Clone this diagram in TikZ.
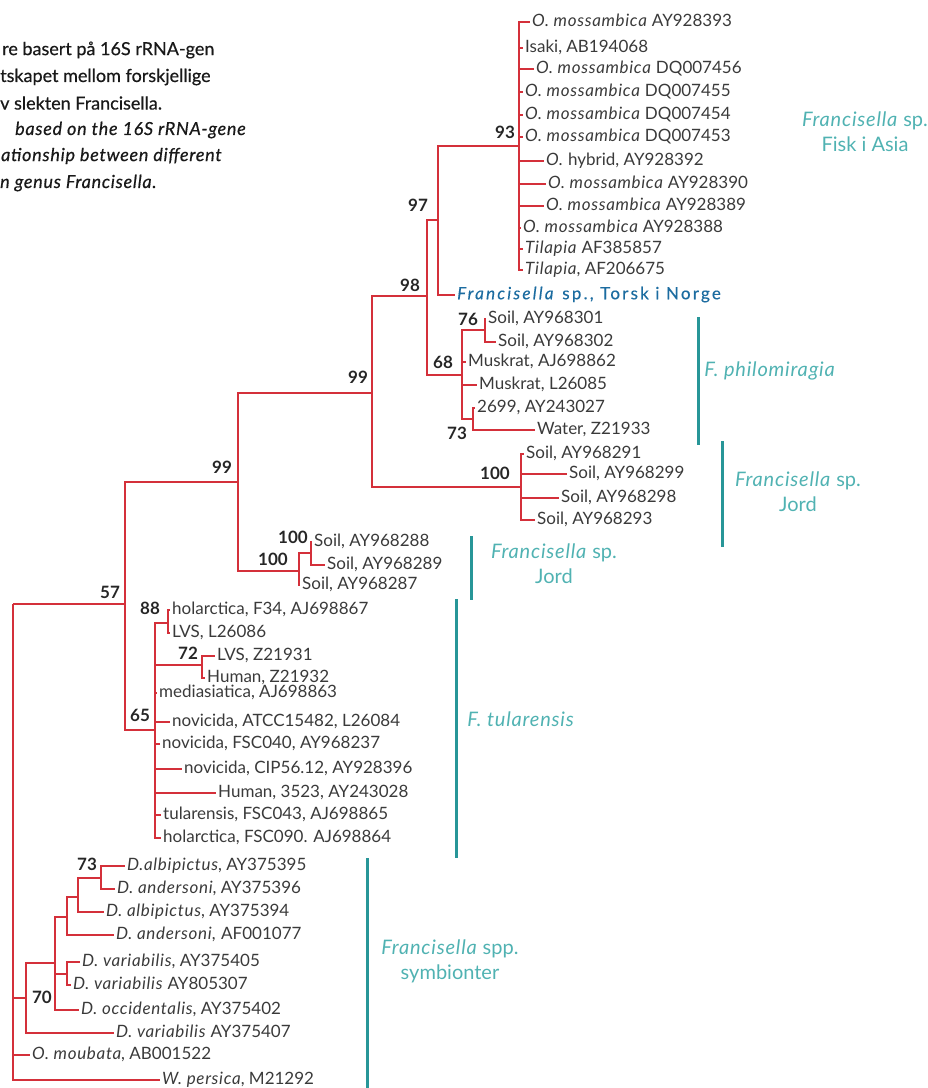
\documentclass[tikz,border=0pt]{standalone}
\usepackage{fontspec}
\setmainfont{Lato}[ItalicFeatures={LetterSpace=4}]
\newfontfamily\capfont{Lato}[FakeBold=0.5, ItalicFeatures={LetterSpace=4}]
\newfontfamily\torskfont{Lato}[LetterSpace=13, FakeBold=0.3, ItalicFeatures={LetterSpace=13}]
\usetikzlibrary{positioning}
\definecolor{treeRed}{RGB}{212,48,58}
\definecolor{cladeTeal}{RGB}{40,150,152}
\definecolor{cladeText}{RGB}{80,178,178}
\definecolor{leafGray}{RGB}{58,58,58}
\definecolor{torskBlue}{RGB}{28,108,160}
\tikzset{
	branch/.style={draw=treeRed, line width=1.6pt},
	leaf/.style={anchor=west, inner xsep=2pt, inner ysep=0pt, text height=12pt, text depth=3.5pt, font=\fontsize{17}{20}\selectfont, text=leafGray},
	support/.style={inner sep=0pt, font=\fontsize{17}{20}\selectfont\bfseries, text=black!85},
	cladebar/.style={draw=cladeTeal, line width=3pt},
	cladelabel/.style={align=center, font=\fontsize{20}{25}\selectfont, text=cladeText},
	caption/.style={anchor=west, inner sep=0pt, font=\capfont\fontsize{18}{22}\selectfont, text=black!90},
}
\begin{document}
\begin{tikzpicture}[x=1pt,y=-1pt]
	\useasboundingbox (0,0) rectangle (928,1088);
	% caption (cut at the left edge)
	\node[caption] (cap1) at (2,50) {re basert på 16S rRNA-gen};
	\node[caption] (cap2) at (0,77) {tskapet mellom forskjellige};
	\node[caption] (cap3) at (0,103) {v slekten Francisella.};
	\node[caption] (cap4) at (15,130) {\itshape based on the 16S rRNA-gene};
	\node[caption] (cap5) at (1,156) {\itshape ationship between different};
	\node[caption] (cap6) at (0,183) {\itshape n genus Francisella.};
	% inner nodes
	\coordinate (root) at (13,604);
	\coordinate (nC) at (125,604);
	\coordinate (nB) at (238,482);
	\coordinate (nA) at (372,393);
	\coordinate (n98) at (427,296);
	\coordinate (n97) at (438,220);
	\coordinate (n93) at (519,146);
	\coordinate (n68) at (462,375);
	\coordinate (n76) at (485,330);
	\coordinate (n73a) at (473,419);
	\coordinate (n100a) at (521,487);
	\coordinate (n100b) at (299,571);
	\coordinate (n100c) at (311,553);
	\coordinate (n65) at (155,730);
	\coordinate (n88) at (168,623);
	\coordinate (n72) at (202,665);
	\coordinate (n70) at (26,998);
	\coordinate (nD) at (55,963);
	\coordinate (nE) at (67,917);
	\coordinate (nF) at (67,974);
	\coordinate (nG) at (78,897);
	\coordinate (n73b) at (101,878);
	% inner branches
	\foreach \p/\c in {root/nC, root/n70, nC/nB, nC/n65, nB/nA, nB/n100b, nA/n98, nA/n100a,
		n98/n97, n98/n68, n97/n93, n68/n76, n68/n73a, n100b/n100c, n65/n88, n65/n72,
		n70/nD, nD/nE, nD/nF, nE/nG, nG/n73b}
		\draw[branch] (\p) |- (\c);
	% Fisk i Asia
	\foreach \n/\x/\y/\t in {m1/530/22/{\textit{O. mossambica} AY928393}, m2/523/48/{Isaki, AB194068},
		m3/534/69/{\textit{O. mossambica} DQ007456}, m4/523/92/{\textit{O. mossambica} DQ007455},
		m5/523/115/{\textit{O. mossambica} DQ007454}, m6/523/137/{\textit{O. mossambica} DQ007453},
		m7/544/161/{\textit{O.} hybrid, AY928392}, m8/546/184/{\textit{O. mossambica} AY928390},
		m9/544/206/{\textit{O. mossambica} AY928389}, m10/521/228/{\textit{O. mossambica} AY928388},
		m11/523/249/{\textit{Tilapia} AF385857}, m12/523/270/{\textit{Tilapia}, AF206675}}{
		\node[leaf] (\n) at (\x,\y) {\t};
		\draw[branch] (n93) |- (\n.west);
	}
	\node[leaf, text=torskBlue, font=\torskfont\fontsize{17}{20}\selectfont] (torsk) at (455,295) {\textit{Francisella} sp., Torsk i Norge};
	\draw[branch] (n97) |- (torsk.west);
	% F. philomiragia
	\foreach \n/\x/\y/\t/\p in {p1/486/319/{Soil, AY968301}/n76, p2/496/342/{Soil, AY968302}/n76,
		p3/466/362/{Muskrat, AJ698862}/n68, p4/477/385/{Muskrat, L26085}/n68,
		p5/475/408/{2699, AY243027}/n73a, p6/535/430/{Water, Z21933}/n73a}{
		\node[leaf] (\n) at (\x,\y) {\t};
		\draw[branch] (\p) |- (\n.west);
	}
	% Jord
	\foreach \n/\x/\y/\t/\p in {j1/524/454/{Soil, AY968291}/n100a, j2/567/474/{Soil, AY968299}/n100a,
		j3/559/498/{Soil, AY968298}/n100a, j4/535/520/{Soil, AY968293}/n100a,
		k1/312/542/{Soil, AY968288}/n100c, k2/325/565/{Soil, AY968289}/n100c,
		k3/300/585/{Soil, AY968287}/n100b}{
		\node[leaf] (\n) at (\x,\y) {\t};
		\draw[branch] (\p) |- (\n.west);
	}
	% F. tularensis
	\foreach \n/\x/\y/\t/\p in {t1/170/610/{holarctica, F34, AJ698867}/n88, t2/170/633/{LVS, L26086}/n88,
		t3/215/656/{LVS, Z21931}/n72, t4/205/678/{Human, Z21932}/n72,
		t5/157/693/{mediasiatica, AJ698863}/n65, t6/170/722/{novicida, ATCC15482, L26084}/n65,
		t7/160/744/{novicida, FSC040, AY968237}/n65, t8/182/769/{novicida, CIP56.12, AY928396}/n65,
		t9/216/793/{Human, 3523, AY243028}/n65, t10/161/815/{tularensis, FSC043, AJ698865}/n65,
		t11/161/838/{holarctica, FSC090. AJ698864}/n65}{
		\node[leaf] (\n) at (\x,\y) {\t};
		\draw[branch] (\p) |- (\n.west);
	}
	% symbionts
	\foreach \n/\x/\y/\t/\p in {d1/125/866/{\textit{D.albipictus}, AY375395}/n73b,
		d2/115/889/{\textit{D. andersoni}, AY375396}/n73b, d3/104/912/{\textit{D. albipictus}, AY375394}/nG,
		d4/114/935/{\textit{D. andersoni,} AF001077}/nE, d5/80/962/{\textit{D. variabilis}, AY375405}/nF,
		d6/71/985/{\textit{D. variabilis} AY805307}/nF, d7/79/1010/{\textit{D. occidentalis}, AY375402}/nD,
		d8/114/1033/{\textit{D. variabilis} AY375407}/n70, d9/30/1055/{\textit{O. moubata}, AB001522}/root,
		d10/160/1080/{\textit{W. persica}, M21292}/root}{
		\node[leaf] (\n) at (\x,\y) {\t};
		\draw[branch] (\p) |- (\n.west);
	}
	% bootstrap values
	\node[support] (s93) at (505,132) {93};
	\node[support] (s97) at (418,205) {97};
	\node[support] (s98) at (410,285) {98};
	\node[support] (s76) at (468,319) {76};
	\node[support] (s68) at (443,362) {68};
	\node[support] (s73a) at (457,433) {73};
	\node[support] (s99a) at (358,377) {99};
	\node[support] (s100a) at (495,473) {100};
	\node[support] (s99b) at (222,467) {99};
	\node[support] (s100c) at (293,537) {100};
	\node[support] (s100b) at (273,559) {100};
	\node[support] (s57) at (110,592) {57};
	\node[support] (s88) at (150,608) {88};
	\node[support] (s72) at (188,653) {72};
	\node[support] (s65) at (140,715) {65};
	\node[support] (s73b) at (87,864) {73};
	\node[support] (s70) at (42,997) {70};
	% clade bars and names
	\draw[cladebar] (698,317) -- (698,445);
	\draw[cladebar] (722,441) -- (722,547);
	\draw[cladebar] (471,536) -- (471,600);
	\draw[cladebar] (456,599) -- (456,858);
	\draw[cladebar] (367,858) -- (367,1088);
	\node[cladelabel] (fisk) at (865,132) {\textit{Francisella} sp.\\Fisk i Asia};
	\node[cladelabel] (philo) at (770,371) {\textit{F. philomiragia}};
	\node[cladelabel] (jordA) at (798,492) {\textit{Francisella} sp.\\Jord};
	\node[cladelabel] (jordB) at (554,564) {\textit{Francisella} sp.\\Jord};
	\node[cladelabel] (tula) at (521,719) {\textit{F. tularensis}};
	\node[cladelabel] (symb) at (450,961) {\textit{Francisella} spp.\\symbionter};
\end{tikzpicture}
\end{document}
